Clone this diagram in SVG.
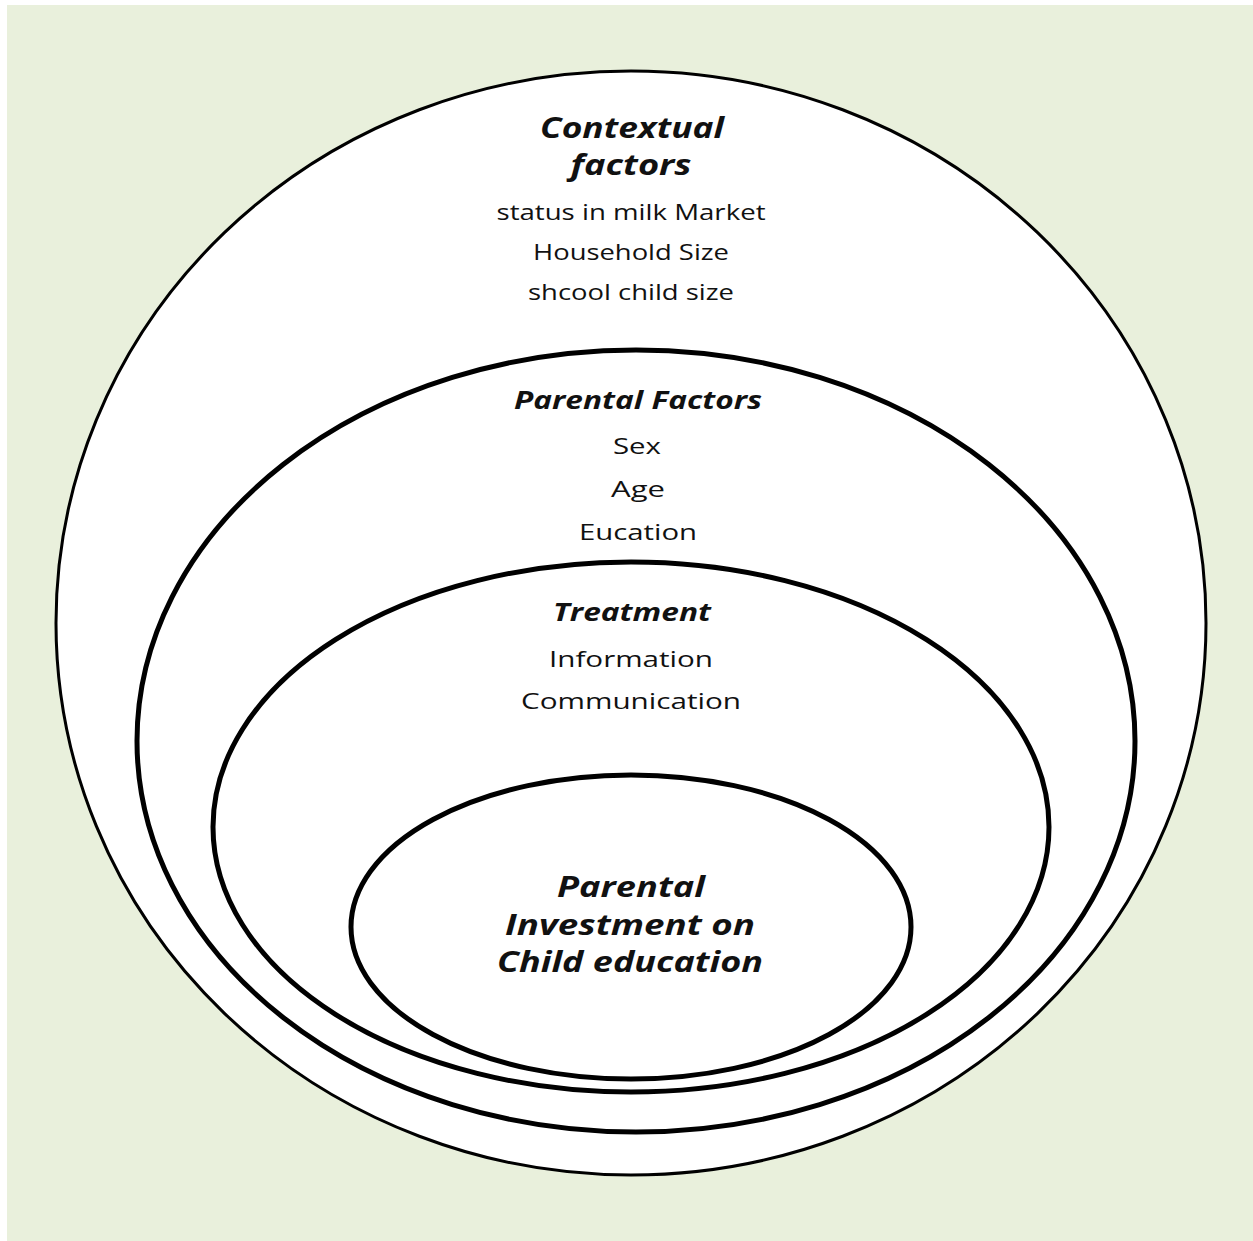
<svg xmlns="http://www.w3.org/2000/svg" width="1253" height="1241" viewBox="0 0 1253 1241">
<style>
.ring{fill:#ffffff;stroke:#000000}
.t{font-family:"Open Sans","Liberation Sans",sans-serif;fill:#111111;text-anchor:middle}
.h{font-weight:bold;font-style:italic}
.b{font-size:22px}
</style>
<rect x="0" y="0" width="1253" height="1241" fill="#ffffff"/>
<rect x="7" y="5" width="1246" height="1236" fill="#E9F0DC"/>
<g id="contextual">
<ellipse class="ring" cx="631" cy="623" rx="575" ry="552" stroke-width="3"/>
<text class="t h" x="632" y="138" font-size="28" textLength="184" lengthAdjust="spacingAndGlyphs">Contextual</text>
<text class="t h" x="631" y="175" font-size="28" textLength="121" lengthAdjust="spacingAndGlyphs">factors</text>
<text class="t b" x="631" y="220" textLength="269" lengthAdjust="spacingAndGlyphs">status in milk Market</text>
<text class="t b" x="631" y="260" textLength="196" lengthAdjust="spacingAndGlyphs">Household Size</text>
<text class="t b" x="631" y="300" textLength="206" lengthAdjust="spacingAndGlyphs">shcool child size</text>
</g>
<g id="parental">
<ellipse class="ring" cx="636" cy="741" rx="499" ry="391" stroke-width="5"/>
<text class="t h" x="638" y="409" font-size="25" textLength="248" lengthAdjust="spacingAndGlyphs">Parental Factors</text>
<text class="t b" x="637" y="454" textLength="48" lengthAdjust="spacingAndGlyphs">Sex</text>
<text class="t b" x="638" y="497" textLength="54" lengthAdjust="spacingAndGlyphs">Age</text>
<text class="t b" x="638" y="540" textLength="118" lengthAdjust="spacingAndGlyphs">Eucation</text>
</g>
<g id="treatment">
<ellipse class="ring" cx="631" cy="827" rx="418" ry="265" stroke-width="5"/>
<text class="t h" x="632" y="621" font-size="25" textLength="158" lengthAdjust="spacingAndGlyphs">Treatment</text>
<text class="t b" x="631" y="667" textLength="164" lengthAdjust="spacingAndGlyphs">Information</text>
<text class="t b" x="631" y="709" textLength="220" lengthAdjust="spacingAndGlyphs">Communication</text>
</g>
<g id="investment">
<ellipse class="ring" cx="631" cy="927" rx="280" ry="152" stroke-width="5"/>
<text class="t h" x="631" y="897" font-size="28" textLength="148" lengthAdjust="spacingAndGlyphs">Parental</text>
<text class="t h" x="630" y="935" font-size="28" textLength="250" lengthAdjust="spacingAndGlyphs">Investment on</text>
<text class="t h" x="630" y="972" font-size="28" textLength="266" lengthAdjust="spacingAndGlyphs">Child education</text>
</g>
<g id="connectors"/>
</svg>
